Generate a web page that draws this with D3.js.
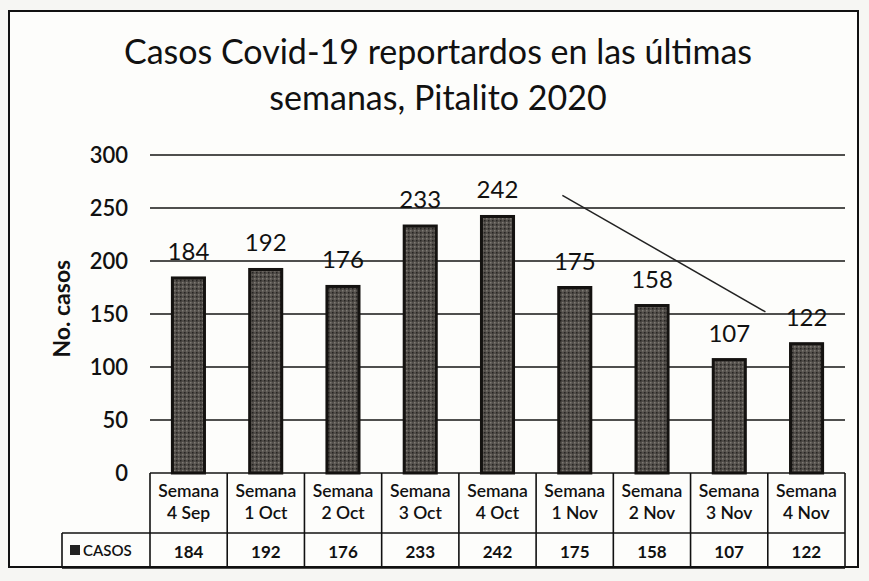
<!DOCTYPE html>
<html>
<head>
<meta charset="utf-8">
<script src="https://cdn.jsdelivr.net/npm/d3@7"></script>
<style>
  html, body { margin: 0; padding: 0; background: #f6f6f3; }
  #chart { width: 869px; height: 581px; }
</style>
</head>
<body>
<div id="chart"></div>
<script>
// Data
const weeks = ['4 Sep', '1 Oct', '2 Oct', '3 Oct', '4 Oct', '1 Nov', '2 Nov', '3 Nov', '4 Nov'];
const casos = [184, 192, 176, 233, 242, 175, 158, 107, 122];
const yTicks = [0, 50, 100, 150, 200, 250, 300];
const titleLines = ['Casos Covid-19 reportardos en las últimas', 'semanas, Pitalito 2020'];
// hand-drawn trend stroke: [category index + fraction, value]
const trendLine = [[5.34, 262], [7.97, 152]];

const width = 869, height = 581;
const margin = { top: 155, right: 24, bottom: 108, left: 150 };
const font = 'Lato, "Open Sans", sans-serif';

const svg = d3.select('#chart').append('svg')
  .attr('width', width)
  .attr('height', height);

svg.append('rect')
  .attr('x', 0).attr('y', 0).attr('width', width).attr('height', height)
  .attr('fill', '#f6f6f3');

// outer frame
svg.append('rect')
  .attr('x', 9).attr('y', 11).attr('width', 849).attr('height', 556)
  .attr('fill', '#fdfdfb')
  .attr('stroke', '#111').attr('stroke-width', 2);

// title
svg.append('text')
  .attr('text-anchor', 'middle')
  .style('font-family', font)
  .style('font-size', '34px')
  .style('fill', '#111')
  .selectAll('tspan')
  .data(titleLines)
  .join('tspan')
  .attr('x', 438)
  .attr('y', (d, i) => 64 + i * 46)
  .text(d => d);

const x = d3.scaleBand()
  .domain(weeks)
  .range([margin.left, width - margin.right])
  .paddingInner(0.585)
  .paddingOuter(0.29);

const band = d3.scaleBand()
  .domain(weeks)
  .range([margin.left, width - margin.right]);

const y = d3.scaleLinear()
  .domain([0, 300])
  .range([height - margin.bottom, margin.top]);

// gridlines
svg.append('g')
  .selectAll('line')
  .data(yTicks)
  .join('line')
  .attr('x1', margin.left)
  .attr('x2', width - margin.right)
  .attr('y1', d => y(d))
  .attr('y2', d => y(d))
  .attr('stroke', '#151515')
  .attr('stroke-width', 1.6);

// y axis labels
const yAxis = svg.append('g')
  .attr('transform', `translate(${margin.left - 22},0)`)
  .call(d3.axisLeft(y).tickValues(yTicks).tickSize(0).tickPadding(0));
yAxis.select('.domain').remove();
yAxis.selectAll('text')
  .style('font-family', font)
  .style('font-size', '22px')
  .style('font-weight', '600')
  .style('fill', '#111');

svg.append('text')
  .attr('transform', `translate(70,${y(155)}) rotate(-90)`)
  .attr('text-anchor', 'middle')
  .style('font-family', font)
  .style('font-size', '23px')
  .style('font-weight', 'bold')
  .style('fill', '#111')
  .text('No. casos');

// stipple pattern for bars
const defs = svg.append('defs');
const pat = defs.append('pattern')
  .attr('id', 'stipple')
  .attr('patternUnits', 'userSpaceOnUse')
  .attr('width', 4).attr('height', 4);
pat.append('rect').attr('width', 4).attr('height', 4).attr('fill', '#524e4a');
pat.append('rect').attr('x', 0).attr('y', 0).attr('width', 1.5).attr('height', 1.5).attr('fill', '#262422');
pat.append('rect').attr('x', 2).attr('y', 2).attr('width', 1.5).attr('height', 1.5).attr('fill', '#7d7973');

svg.append('g')
  .selectAll('rect')
  .data(casos)
  .join('rect')
  .attr('x', (d, i) => x(weeks[i]))
  .attr('y', d => y(d))
  .attr('width', x.bandwidth())
  .attr('height', d => y(0) - y(d))
  .attr('fill', 'url(#stipple)')
  .attr('stroke', '#141210')
  .attr('stroke-width', 3);

// data labels
svg.append('g')
  .selectAll('text')
  .data(casos)
  .join('text')
  .attr('x', (d, i) => x(weeks[i]) + x.bandwidth() / 2)
  .attr('y', d => y(d) - 18)
  .attr('text-anchor', 'middle')
  .style('font-family', font)
  .style('font-size', '24px')
  .style('fill', '#111')
  .text(d => d);

// trend stroke
svg.append('line')
  .attr('x1', band(weeks[Math.floor(trendLine[0][0])]) + band.bandwidth() * (trendLine[0][0] % 1))
  .attr('y1', y(trendLine[0][1]))
  .attr('x2', band(weeks[Math.floor(trendLine[1][0])]) + band.bandwidth() * (trendLine[1][0] % 1))
  .attr('y2', y(trendLine[1][1]))
  .attr('stroke', '#222')
  .attr('stroke-width', 1.5);

// data table
const tTop = y(0);
const tMid = tTop + 60;
const tBot = tMid + 35;
const table = svg.append('g').attr('stroke', '#111').attr('stroke-width', 1.6);
table.append('line').attr('x1', margin.left).attr('x2', width - margin.right).attr('y1', tMid).attr('y2', tMid);
table.append('line').attr('x1', 62).attr('x2', width - margin.right).attr('y1', tBot).attr('y2', tBot);
table.append('line').attr('x1', 62).attr('x2', 62).attr('y1', tMid).attr('y2', tBot);
table.append('line').attr('x1', 62).attr('x2', margin.left).attr('y1', tMid).attr('y2', tMid);
table.selectAll('line.col')
  .data(weeks.concat(['end']))
  .join('line')
  .attr('class', 'col')
  .attr('x1', (d, i) => margin.left + i * band.step())
  .attr('x2', (d, i) => margin.left + i * band.step())
  .attr('y1', tTop)
  .attr('y2', tBot);

const headers = svg.append('g')
  .style('font-family', font)
  .style('font-size', '17.5px')
  .style('font-weight', '600')
  .style('fill', '#111')
  .attr('text-anchor', 'middle');
headers.selectAll('text')
  .data(weeks)
  .join('text')
  .attr('x', d => band(d) + band.bandwidth() / 2)
  .attr('y', tTop + 24)
  .each(function(d) {
    const t = d3.select(this);
    t.append('tspan').attr('x', band(d) + band.bandwidth() / 2).text('Semana');
    t.append('tspan').attr('x', band(d) + band.bandwidth() / 2).attr('dy', 22).text(d);
  });

svg.append('g')
  .selectAll('text')
  .data(casos)
  .join('text')
  .attr('x', (d, i) => band(weeks[i]) + band.bandwidth() / 2)
  .attr('y', tMid + 25)
  .attr('text-anchor', 'middle')
  .style('font-family', font)
  .style('font-size', '17px')
  .style('font-weight', 'bold')
  .style('fill', '#111')
  .text(d => d);

// legend key in table
svg.append('rect')
  .attr('x', 70).attr('y', tMid + 12).attr('width', 10).attr('height', 10)
  .attr('fill', '#222');
svg.append('text')
  .attr('x', 83).attr('y', tMid + 23)
  .style('font-family', font)
  .style('font-size', '15px')
  .style('font-weight', '600')
  .style('fill', '#111')
  .text('CASOS');
</script>
</body>
</html>
